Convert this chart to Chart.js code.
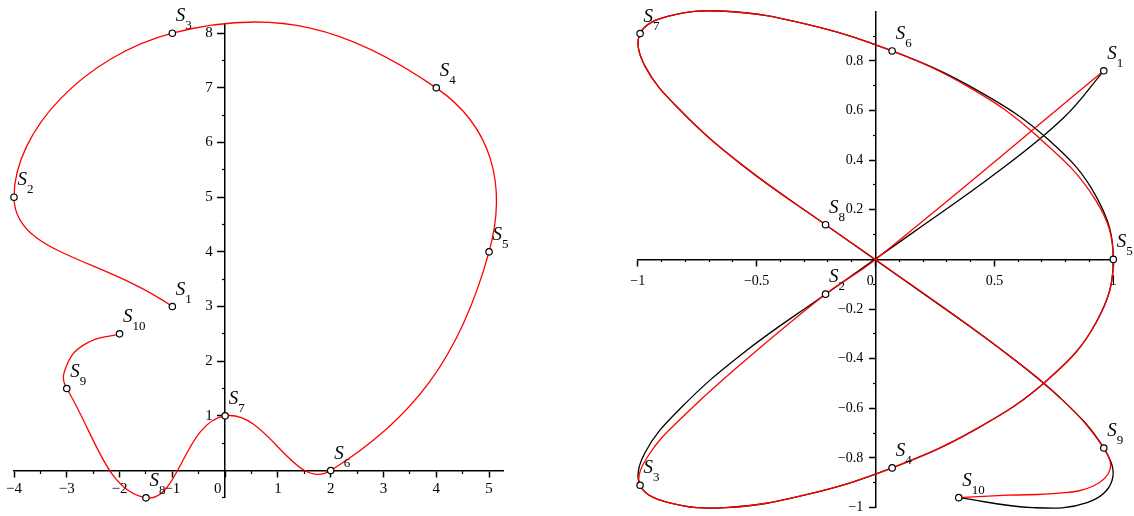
<!DOCTYPE html>
<html>
<head>
<meta charset="utf-8">
<script src="https://cdn.jsdelivr.net/npm/chart.js@4/dist/chart.umd.min.js"></script>
<style>
  html, body { margin: 0; padding: 0; background: #ffffff; }
  #wrap { position: relative; width: 1134px; height: 516px; overflow: hidden; }
  canvas { position: absolute; top: 0; }
  #cL { left: 0; }
  #cR { left: 567px; }
</style>
</head>
<body>
<div id="wrap">
  <canvas id="cL" width="567" height="516"></canvas>
  <canvas id="cR" width="567" height="516"></canvas>
</div>
<script>
// ---------- data: left panel ----------
const leftNames = ['1','2','3','4','5','6','7','8','9','10'];
const leftX = [-1, -4, -1, 4, 5, 2, 0, -1.5, -3, -2];
const leftY = [3, 5, 8, 7, 4, 0, 1, -0.5, 1.5, 2.5];
// red curve path (passes through the S points)
const leftPathX = [-1, -4, -1, 4, 5, 2, 0, -1.5, -3, -2.99, -2.62, -2];
const leftPathY = [3, 5, 8, 7, 4, 0, 1, -0.5, 1.5, 1.95, 2.33, 2.5];

const leftXMajor = [-4, -3, -2, -1, 0, 1, 2, 3, 4, 5];
const leftXLabels = ['\u22124', '\u22123', '\u22122', '\u22121', '0    ', '1', '2', '3', '4', '5'];
const leftXMinor = [-3.5, -2.5, -1.5, -0.5, 0.5, 1.5, 2.5, 3.5, 4.5];
const leftYMajor = [1, 2, 3, 4, 5, 6, 7, 8];
const leftYLabels = ['1', '2', '3', '4', '5', '6', '7', '8'];
const leftYMinor = [-0.5, 0.5, 1.5, 2.5, 3.5, 4.5, 5.5, 6.5, 7.5];

// ---------- data: right panel ----------
const rightNames = ['1','2','3','4','5','6','7','8','9','10'];
const rightX = [0.96, -0.21, -0.99, 0.07, 1.0, 0.07, -0.99, -0.21, 0.96, 0.35];
const rightY = [0.76, -0.14, -0.91, -0.84, 0.0, 0.84, 0.91, 0.14, -0.76, -0.96];

// red curve path
const redX = [0.96, 0, -0.21, -0.54, -0.795, -0.955, -0.99, -0.87, -0.63, -0.30, 0.07, 0.43, 0.73, 0.93,
              1.0, 0.925, 0.67, 0.40, 0.07, -0.30, -0.63, -0.87, -0.99, -0.97, -0.82, -0.56, -0.21, 0,
              0.51, 0.79, 0.96, 0.987, 0.916, 0.773, 0.558, 0.35];
const redY = [0.76, 0, -0.14, -0.40, -0.62, -0.79, -0.91, -0.98, -1.0, -0.95, -0.84, -0.68, -0.48, -0.25,
              0, 0.24, 0.505, 0.69, 0.84, 0.95, 1.0, 0.98, 0.91, 0.78, 0.60, 0.38, 0.14, 0,
              -0.35, -0.57, -0.76, -0.845, -0.913, -0.942, -0.95, -0.96];

// black reference curve, read along the drawn path
const blackX = [0.96, 0.79, 0.51, 0.16, -0.21, -0.56, -0.82, -0.97, -0.99, -0.87, -0.63, -0.30, 0.07,
                0.43, 0.73, 0.93, 1.0, 0.93, 0.73, 0.43, 0.07, -0.30, -0.63, -0.87, -0.99, -0.97,
                -0.82, -0.56, -0.21, 0.16, 0.51, 0.79, 0.96, 0.995, 0.89, 0.66, 0.35];
const blackY = [0.76, 0.57, 0.35, 0.11, -0.14, -0.38, -0.60, -0.78, -0.91, -0.98, -1.0, -0.95, -0.84,
                -0.68, -0.48, -0.25, 0.0, 0.25, 0.48, 0.68, 0.84, 0.95, 1.0, 0.98, 0.91, 0.78,
                0.60, 0.38, 0.14, -0.11, -0.35, -0.57, -0.76, -0.89, -0.98, -1.0, -0.96];

const rightXMajor = [-1, -0.5, 0, 0.5, 1];
const rightXLabels = ['\u22121', '\u22120.5', '0   ', '0.5', '1'];
const rightXMinor = [-0.9, -0.8, -0.7, -0.6, -0.4, -0.3, -0.2, -0.1, 0.1, 0.2, 0.3, 0.4, 0.6, 0.7, 0.8, 0.9];
const rightYMajor = [-1, -0.8, -0.6, -0.4, -0.2, 0.2, 0.4, 0.6, 0.8];
const rightYLabels = ['\u22121', '\u22120.8', '\u22120.6', '\u22120.4', '\u22120.2', '0.2', '0.4', '0.6', '0.8'];
const rightYMinor = [-0.9, -0.7, -0.5, -0.3, -0.1, 0.1, 0.3, 0.5, 0.7, 0.9];

// ---------- helpers ----------
const FONT = 'Liberation Serif';
const toPts = (xs, ys) => xs.map((x, i) => ({ x: x, y: ys[i] }));

const pointLabelPlugin = {
  id: 'pointLabels',
  afterDatasetsDraw(chart) {
    const names = chart.options.plugins.pointLabels.names;
    const idx = chart.data.datasets.findIndex(d => d.isMarkers);
    const meta = chart.getDatasetMeta(idx);
    const ctx = chart.ctx;
    ctx.save();
    ctx.fillStyle = '#000';
    ctx.textBaseline = 'alphabetic';
    ctx.textAlign = 'left';
    meta.data.forEach((el, i) => {
      const px = el.x + 3.5, py = el.y;
      ctx.font = 'italic 19px "' + FONT + '"';
      ctx.fillText('S', px, py - 12);
      const w = ctx.measureText('S').width;
      ctx.font = '13px "' + FONT + '"';
      ctx.fillText(names[i], px + w, py - 4);
    });
    ctx.restore();
  }
};

function tickSetter(values) {
  return (scale) => { scale.ticks = values.map(v => ({ value: v })); };
}

// axis line + major tick marks (labels optional)
function majorAxis(axis, min, max, values, labels, pos, fontSize, pad, tl) {
  return {
    type: 'linear', axis: axis, min: min, max: max, position: pos,
    afterBuildTicks: tickSetter(values),
    grid: { display: true, drawOnChartArea: false, drawTicks: true, tickLength: tl,
            tickWidth: 1.5, tickColor: '#000' },
    border: { display: true, color: '#000', width: 1.5 },
    ticks: { display: !!labels, autoSkip: false, maxRotation: 0, minRotation: 0, padding: pad, color: '#000',
             font: { family: FONT, size: fontSize },
             callback: (v, i) => labels ? labels[i] : '' }
  };
}
// labels only (used for the vertical axis, set just left of the axis line)
function labelAxis(axis, min, max, values, labels, pos, fontSize) {
  return {
    type: 'linear', axis: axis, min: min, max: max, position: pos,
    afterBuildTicks: tickSetter(values),
    grid: { display: false },
    border: { display: false },
    ticks: { autoSkip: false, maxRotation: 0, minRotation: 0, padding: 0, color: '#000',
             font: { family: FONT, size: fontSize },
             callback: (v, i) => labels[i] }
  };
}
function minorAxis(axis, min, max, values, pos) {
  return {
    type: 'linear', axis: axis, min: min, max: max, position: pos,
    afterBuildTicks: tickSetter(values),
    grid: { display: true, drawOnChartArea: false, drawTicks: true, tickLength: 3,
            tickWidth: 1.2, tickColor: '#000' },
    border: { display: false },
    ticks: { display: false, autoSkip: false }
  };
}

function makeChart(id, cfg) {
  return new Chart(document.getElementById(id), {
    type: 'scatter',
    data: { datasets: cfg.datasets },
    options: {
      responsive: false, animation: false, devicePixelRatio: 1,
      layout: { padding: cfg.padding },
      elements: { line: { capBezierPoints: false } },
      plugins: { legend: { display: false }, tooltip: { enabled: false },
                 pointLabels: { names: cfg.names } },
      scales: cfg.scales
    },
    plugins: [pointLabelPlugin]
  });
}

const markerStyle = {
  showLine: false, pointRadius: 3.2, pointBorderWidth: 1.2,
  pointBorderColor: '#000', pointBackgroundColor: '#fff', clip: false, order: 0, isMarkers: true
};

// ---------- left chart ----------
makeChart('cL', {
  names: leftNames,
  padding: { left: 14, right: 63.7, top: 25, bottom: 18.7 },
  datasets: [
    { data: toPts(leftPathX, leftPathY), showLine: true, borderColor: '#ff0000', borderWidth: 1.3,
      pointRadius: 0, tension: 0.45, clip: false, order: 1 },
    Object.assign({ data: toPts(leftX, leftY) }, markerStyle)
  ],
  scales: {
    x: majorAxis('x', -4, 5.27, leftXMajor, leftXLabels, { y: 0 }, 15, 4, 6),
    y: majorAxis('y', -0.49, 8.15, leftYMajor, null, { x: 0 }, 15, 5, 7),
    xm: minorAxis('x', -4, 5.27, leftXMinor, { y: 0 }),
    ym: minorAxis('y', -0.49, 8.15, leftYMinor, { x: 0 }),
    yl: labelAxis('y', -0.49, 8.15, leftYMajor, leftYLabels, { x: -0.233 }, 15)
  }
});

// ---------- right chart ----------
makeChart('cR', {
  names: rightNames,
  padding: { left: 70.7, right: 20.7, top: 11.25, bottom: 7.25 },
  datasets: [
    { data: toPts(blackX, blackY), showLine: true, borderColor: '#000000', borderWidth: 1.3,
      pointRadius: 0, tension: 0.4, clip: false, order: 2 },
    { data: toPts(redX, redY), showLine: true, borderColor: '#ff0000', borderWidth: 1.3,
      pointRadius: 0, tension: 0.4, clip: false, order: 1 },
    Object.assign({ data: toPts(rightX, rightY) }, markerStyle)
  ],
  scales: {
    x: majorAxis('x', -1, 1, rightXMajor, rightXLabels, { y: 0 }, 14, 8, 6),
    y: majorAxis('y', -1, 1, rightYMajor, null, { x: 0 }, 14, 5, 6),
    xm: minorAxis('x', -1, 1, rightXMinor, { y: 0 }),
    ym: minorAxis('y', -1, 1, rightYMinor, { x: 0 }),
    yl: labelAxis('y', -1, 1, rightYMajor, rightYLabels, { x: -0.0513 }, 14)
  }
});
</script>
</body>
</html>
